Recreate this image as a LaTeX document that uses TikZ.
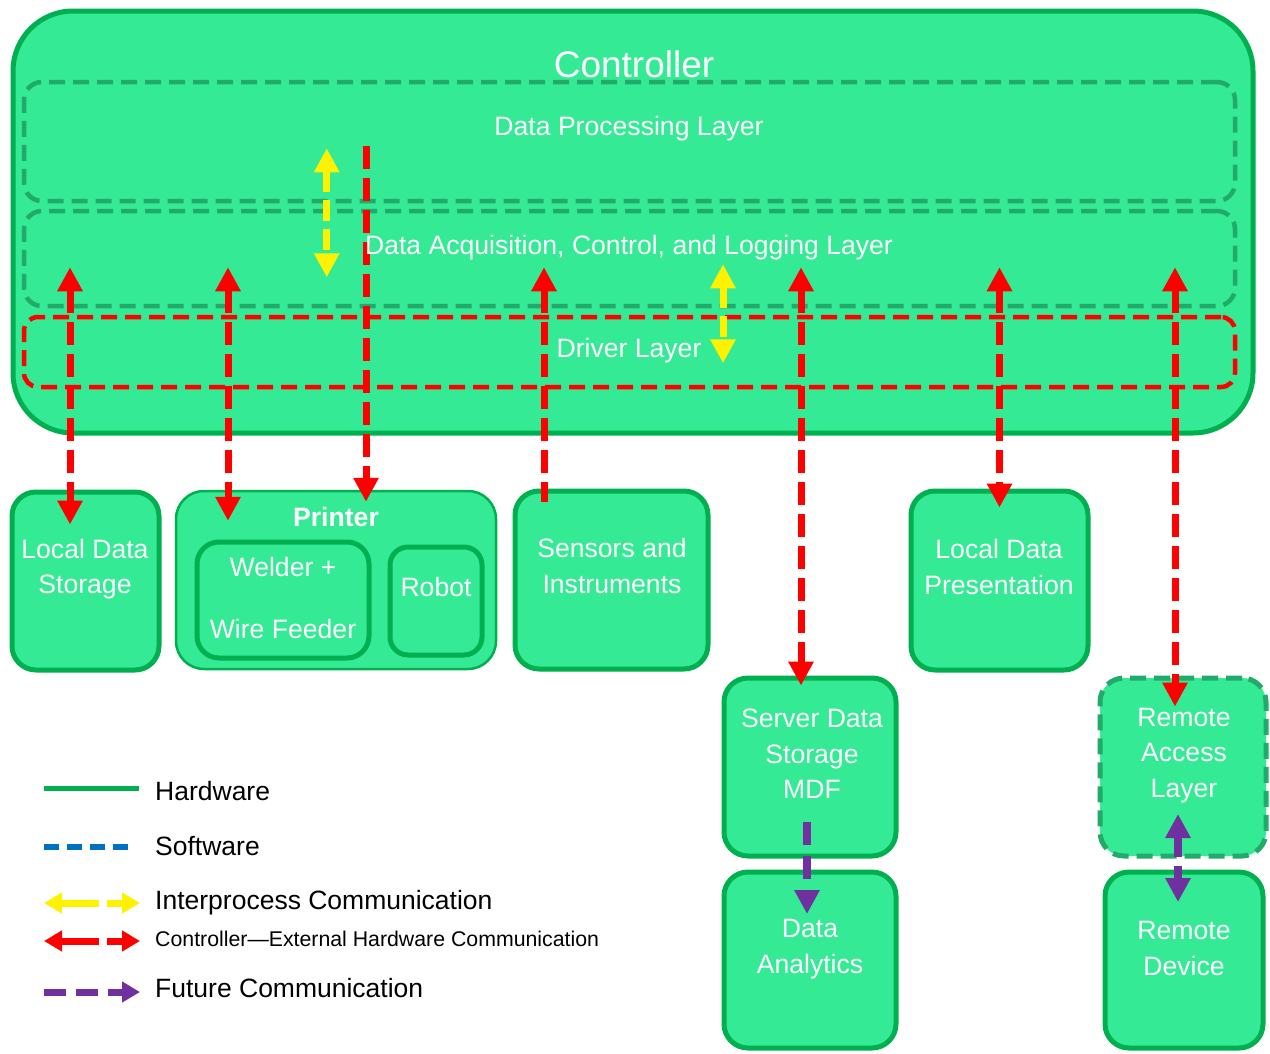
\documentclass[tikz,border=0pt]{standalone}
\usepackage{fontspec}
\setmainfont{Liberation Sans}
\usetikzlibrary{arrows.meta}

\definecolor{boxgreen}{RGB}{52,234,148}
\definecolor{hwgreen}{RGB}{0,176,80}
\definecolor{swgreen}{RGB}{34,170,106}
\definecolor{futpurple}{RGB}{112,48,160}
\definecolor{swblue}{RGB}{0,112,192}

\tikzset{
  hwbox/.style={draw=hwgreen, fill=boxgreen, line width=5pt, rounded corners=24pt, inner sep=0pt},
  layerbox/.style={draw=swgreen, line width=4.5pt, dash pattern=on 16pt off 8pt, rounded corners=18pt, inner sep=0pt},
  boxtext/.style={text=white, align=center, font=\fontsize{26.6}{35.5}\selectfont},
  legtext/.style={anchor=west, inner sep=0pt, font=\fontsize{26.5}{30}\selectfont},
  extcomm/.style={draw=red, line width=7pt, dash pattern=on 23pt off 9pt},
  ipc/.style={draw=yellow, line width=7pt, dash pattern=on 21pt off 8pt},
  futcomm/.style={draw=futpurple, line width=8pt, dash pattern=on 23pt off 11pt},
  legtip/.style={>={Triangle[width=20pt,length=18pt]}}
}

\begin{document}
\begin{tikzpicture}[x=1pt, y=-1pt, >={Triangle[width=24pt,length=24pt]}]
  \useasboundingbox (0,0) rectangle (1270,1053);

  % Controller and its layers
  \node[hwbox, rounded corners=60pt, minimum width=1240pt, minimum height=422pt] (ctrl) at (633,222) {};
  \node[layerbox, minimum width=1211pt, minimum height=119pt] (dpl) at (629.5,141.5) {};
  \node[layerbox, minimum width=1211pt, minimum height=95pt] (dal) at (629.5,258.5) {};
  \node[layerbox, draw=red, rounded corners=14pt, minimum width=1211pt, minimum height=70pt] (drl) at (629.5,352) {};

  % External hardware
  \node[hwbox, minimum width=147pt, minimum height=178pt] (lds) at (85.5,581) {};
  \node[hwbox, line width=2.5pt, rounded corners=28pt, minimum width=320pt, minimum height=178pt] (prn) at (336,580) {};
  \node[hwbox, rounded corners=22pt, minimum width=172pt, minimum height=116pt] (wld) at (283,600) {};
  \node[hwbox, rounded corners=18pt, minimum width=92pt, minimum height=108pt] (rbt) at (436,601) {};
  \node[hwbox, minimum width=193pt, minimum height=178pt] (sns) at (611.5,580) {};
  \node[hwbox, minimum width=177pt, minimum height=179pt] (ldp) at (999.5,580.5) {};
  \node[hwbox, minimum width=172pt, minimum height=178pt] (sds) at (810,767) {};
  \node[hwbox, minimum width=172pt, minimum height=176pt] (dan) at (810,960) {};
  \node[hwbox, draw=swgreen, dash pattern=on 16pt off 8pt, minimum width=166pt, minimum height=178pt] (ral) at (1183,767) {};
  \node[hwbox, minimum width=158pt, minimum height=176pt] (rdv) at (1184,960) {};

  % Controller -- external hardware
  \draw[extcomm, <->] ([xshift=-15.5pt, yshift=41pt]dal.south -| lds) -- ([xshift=-15.5pt, yshift=-35pt]lds.north);
  \draw[extcomm, <->] ([xshift=-108pt, yshift=41pt]dal.south -| prn) -- ([xshift=-108pt, yshift=-31pt]prn.north);
  \draw[extcomm, ->] ([xshift=30pt, yshift=57pt]dpl.south -| prn) -- ([xshift=30pt, yshift=-12pt]prn.north);
  \draw[extcomm, <-] ([xshift=-67.5pt, yshift=41pt]dal.south -| sns) -- ([xshift=-67.5pt, yshift=-13pt]sns.north);
  \draw[extcomm, <->] ([xshift=-9pt, yshift=41pt]dal.south -| sds) -- ([xshift=-9pt, yshift=-10pt]sds.north);
  \draw[extcomm, <->] ([yshift=41pt]dal.south -| ldp) -- ([yshift=-19pt]ldp.north);
  \draw[extcomm, <->] ([xshift=-8pt, yshift=41pt]dal.south -| ral) -- ([xshift=-8pt, yshift=-31pt]ral.north);

  % Interprocess
  \draw[ipc, <->] ([xshift=305pt, yshift=55pt]dpl.south west) -- ([xshift=305pt, yshift=31pt]dal.south west);
  \draw[ipc, <->] ([xshift=93.5pt, yshift=44pt]dal.south -| drl) -- ([xshift=93.5pt, yshift=26pt]drl.south);

  % Future
  \draw[futcomm, ->] ([xshift=-3pt, yshift=36.5pt]sds.south) -- ([xshift=-3pt, yshift=-44.5pt]dan.north);
  \draw[futcomm, <->, dash pattern=on 20pt off 9pt] ([xshift=-6pt, yshift=44.5pt]ral.south -| rdv) -- ([xshift=-6pt, yshift=-32.5pt]rdv.north);

  % Texts
  \node[boxtext, font=\fontsize{37}{44}\selectfont] (ctrl-t) at (634,64) {Controller};
  \node[boxtext] (dpl-t) at (629,129) {Data Processing Layer};
  \node[boxtext] (dal-t) at (629,247.5) {Data Acquisition, Control, and Logging Layer};
  \node[boxtext] (drl-t) at (629,351) {Driver Layer};
  \node[boxtext] (lds-t) at (85,569) {Local Data\\Storage};
  \node[boxtext, font=\fontsize{26.6}{35.5}\selectfont\bfseries] (prn-t) at (336,517) {Printer};
  \node[boxtext] (wld-t) at (283,598) {Welder +\\[26pt]Wire Feeder};
  \node[boxtext] (rbt-t) at (436,587) {Robot};
  \node[boxtext] (sns-t) at (612,566) {Sensors and\\Instruments};
  \node[boxtext] (ldp-t) at (999,567) {Local Data\\Presentation};
  \node[boxtext] (sds-t) at (812,754) {Server Data\\Storage\\MDF};
  \node[boxtext] (dan-t) at (810,949) {Data\\Analytics};
  \node[boxtext] (ral-t) at (1184,755.5) {Remote\\Access\\Layer};
  \node[boxtext] (rdv-t) at (1184,948.5) {Remote\\Device};

  % Legend
  \node[legtext] (lg-hw) at (155,791) {Hardware};
  \node[legtext] (lg-sw) at (155,846) {Software};
  \node[legtext] (lg-ipc) at (155,903) {Interprocess Communication};
  \node[legtext, font=\fontsize{21.3}{25}\selectfont] (lg-ext) at (155,939) {Controller—External Hardware Communication};
  \node[legtext] (lg-fut) at (155,988) {Future Communication};

  \draw[draw=hwgreen, line width=5pt] ([xshift=-111pt, yshift=3pt]lg-hw.west) -- ([xshift=-16pt, yshift=3pt]lg-hw.west);
  \draw[draw=swblue, line width=6pt, dash pattern=on 15pt off 8pt] ([xshift=-111pt, yshift=-1pt]lg-sw.west) -- ([xshift=-21pt, yshift=-1pt]lg-sw.west);
  \draw[ipc, legtip, <->, dash pattern=on 38pt off 8pt] ([xshift=-111pt]lg-ipc.west) -- ([xshift=-15pt]lg-ipc.west);
  \draw[extcomm, legtip, <->, dash pattern=on 38pt off 8pt] ([xshift=-111pt, yshift=-2pt]lg-ext.west) -- ([xshift=-15pt, yshift=-2pt]lg-ext.west);
  \draw[futcomm, legtip, line width=7pt, ->, dash pattern=on 22pt off 10pt] ([xshift=-111pt, yshift=-4pt]lg-fut.west) -- ([xshift=-15pt, yshift=-4pt]lg-fut.west);
\end{tikzpicture}
\end{document}
